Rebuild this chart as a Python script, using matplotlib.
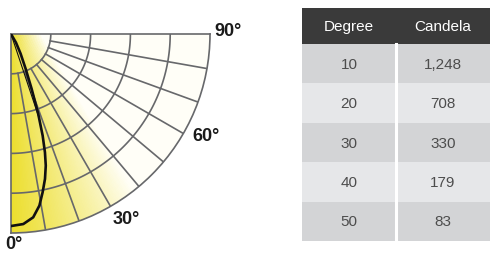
import numpy as np
import matplotlib.pyplot as plt

plt.rcParams['font.family'] = ['Liberation Sans', 'DejaVu Sans']

# table values
degrees = [10, 20, 30, 40, 50]
candela = [1248, 708, 330, 179, 83]
col_labels = ['Degree', 'Candela']

# intensity curve (angle deg, radius as fraction of outer ring)
curve_deg = [0, 3.7, 6.9, 9.4, 11.3, 13.2, 14.8, 16.0, 17.3, 18.8, 20.6, 22.8, 26, 30, 40]
curve_rel = [0.965, 0.957, 0.928, 0.874, 0.811, 0.748, 0.684, 0.619, 0.535, 0.425,
             0.295, 0.191, 0.11, 0.05, 0.0]
beam_deg = 18.5

ring_r = [0.2, 0.4, 0.6, 0.8]
spoke_deg = [10, 20, 30, 40, 50, 60, 70, 80]
label_deg = [0, 30, 60, 90]

grid_col = '#67686b'
yellow = np.array([236, 222, 45]) / 255
white = np.array([255, 254, 247]) / 255

fig = plt.figure(figsize=(4.9, 2.55), dpi=100)

# ---- polar diagram ----
ax = fig.add_axes([11 / 490, 21 / 255, 199 / 490, 199 / 255], projection='polar')
ax.set_theta_zero_location('S')
ax.set_theta_direction(1)
ax.set_thetamin(0)
ax.set_thetamax(90)
ax.set_ylim(0, 1)
ax.set_xticks([])
ax.set_yticks([])
ax.grid(False)

th = np.linspace(0, np.pi / 2, 181)
rr = np.linspace(0, 1, 121)
T, R = np.meshgrid(th, rr)
tc = (th[:-1] + th[1:]) / 2
rc = (rr[:-1] + rr[1:]) / 2
Tc, Rc = np.meshgrid(tc, rc)
X = Rc * np.sin(Tc)
Y = Rc * np.cos(Tc)
t = np.clip(X / (0.15 + 0.6 * Y), 0, 1) ** 1.0
colors = yellow * (1 - t)[..., None] + white * t[..., None]
ax.pcolormesh(T, R, colors, shading='flat', edgecolors='none', zorder=0)

for name in ['polar', 'start', 'end']:
    ax.spines[name].set_color(grid_col)
    ax.spines[name].set_linewidth(1.2)
ax.spines['inner'].set_visible(False)

arc = np.linspace(0, np.pi / 2, 100)
for r in ring_r:
    ax.plot(arc, np.full_like(arc, r), color=grid_col, lw=1.2, zorder=2)
for d in spoke_deg:
    ax.plot([np.radians(d)] * 2, [ring_r[0], 1], color=grid_col, lw=1.2, zorder=2)

ax.plot(np.radians(curve_deg), curve_rel, color='#111111', lw=1.9, zorder=3)
ax.plot([np.radians(beam_deg)] * 2, [0, np.interp(beam_deg, curve_deg, curve_rel)],
        color='#111111', lw=0.8, zorder=3)

label_pos = [(0.8, 1.055), (31.9, 1.095), (62.5, 1.105), (90.9, 1.09)]
for d, (a, r) in zip(label_deg, label_pos):
    ax.text(np.radians(a), r, f'{d}°', ha='center', va='center', fontsize=13,
            fontweight='bold', color='#1a1a1a')

# ---- table ----
tax = fig.add_axes([302 / 490, 13 / 255, 188 / 490, 233 / 255])
tax.axis('off')
cell_text = [[str(d), f'{c:,}'] for d, c in zip(degrees, candela)]
tbl = tax.table(cellText=cell_text, colLabels=col_labels, cellLoc='center', bbox=[0, 0, 1, 1])
tbl.auto_set_font_size(False)
tbl.set_fontsize(11)
head_h, row_h = 36, 39.4
for (row, col), cell in tbl.get_celld().items():
    cell.set_linewidth(0)
    if row == 0:
        cell.set_height(head_h)
        cell.set_facecolor('#3a3a3a')
        cell.get_text().set_color('white')
    else:
        cell.set_height(row_h)
        cell.set_facecolor('#d3d4d6' if row % 2 == 1 else '#e6e7e9')
        cell.get_text().set_color('#4d4d4d')
body_top = 5 * row_h / (head_h + 5 * row_h)
tax.plot([0.5, 0.5], [0, body_top], color='white', lw=2.2, zorder=20)
tax.set_xlim(0, 1)
tax.set_ylim(0, 1)

fig.savefig('out.png', dpi=100)
